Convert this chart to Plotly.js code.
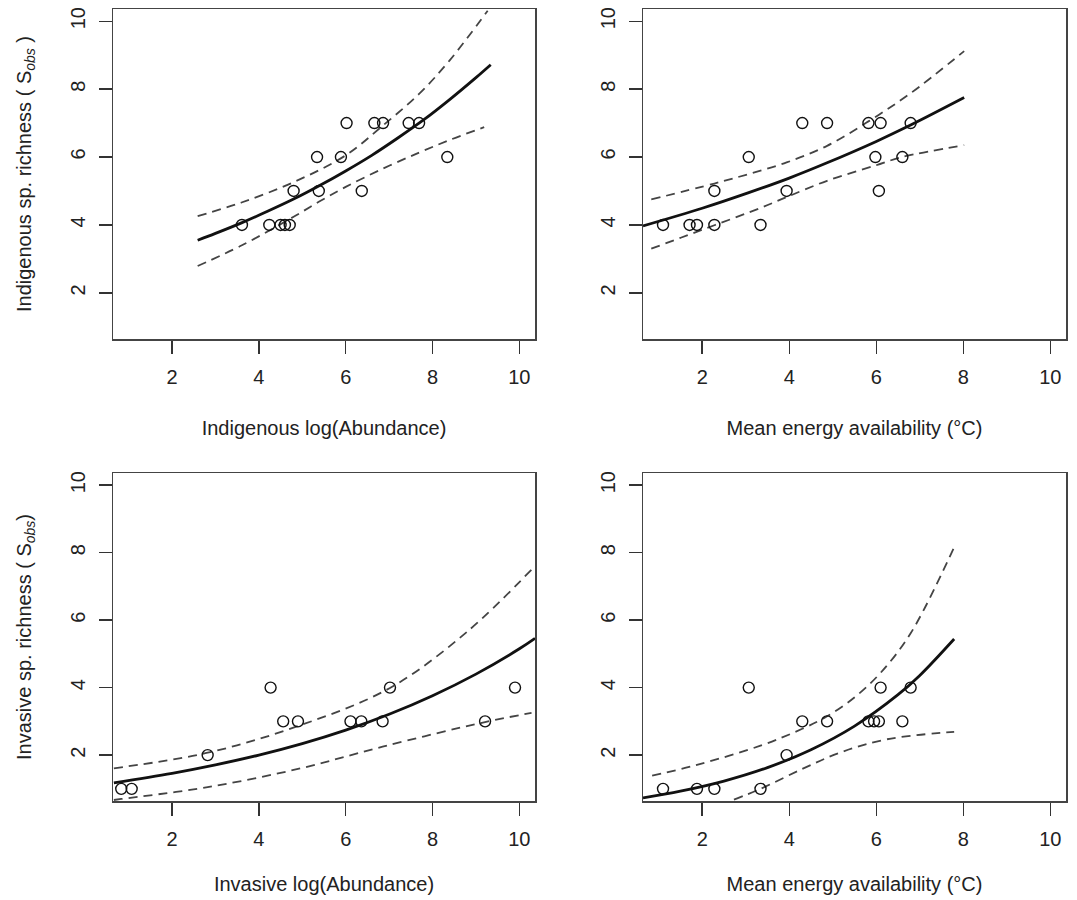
<!DOCTYPE html>
<html>
<head>
<meta charset="utf-8">
<script src="https://cdn.plot.ly/plotly-3.0.1.min.js"></script>
<style>html,body{margin:0;padding:0;background:#fff}#chart{width:1077px;height:900px}</style>
</head>
<body>
<div id="chart"></div>
<script>
// ---------- Panel A: Indigenous richness vs Indigenous log(Abundance) ----------
const indAbundX = [3.61, 4.24, 4.50, 4.60, 4.71, 4.80, 5.34, 5.38, 5.89, 6.02, 6.37, 6.66, 6.86, 7.45, 7.69, 8.34];
const indAbundY = [4, 4, 4, 4, 4, 5, 6, 5, 6, 7, 5, 7, 7, 7, 7, 6];
const indAbundFitX = [2.59, 3.0, 3.6, 4.2, 4.8, 5.4, 6.0, 6.6, 7.2, 7.8, 8.4, 9.0, 9.34];
const indAbundFitY = [3.55, 3.75, 4.06, 4.40, 4.76, 5.16, 5.59, 6.05, 6.56, 7.10, 7.70, 8.34, 8.72];
const indAbundUpX = [2.59, 3.6, 4.8, 6.0, 6.86, 7.69, 8.39, 9.27];
const indAbundUpY = [4.26, 4.66, 5.26, 6.05, 6.93, 7.86, 8.84, 10.31];
const indAbundLoX = [2.59, 3.61, 4.8, 5.38, 6.0, 6.86, 7.69, 8.39, 9.19];
const indAbundLoY = [2.79, 3.40, 4.24, 4.68, 5.12, 5.66, 6.13, 6.50, 6.88];

// ---------- Panel B: Indigenous richness vs Mean energy availability ----------
const indEnergyX = [1.10, 1.71, 1.88, 2.28, 2.28, 3.07, 3.34, 3.94, 4.30, 4.87, 5.82, 6.10, 5.98, 6.06, 6.60, 6.79];
const indEnergyY = [4, 4, 4, 4, 5, 6, 4, 5, 7, 7, 7, 7, 6, 5, 6, 7];
const indEnergyFitX = [0.64, 2.0, 3.07, 4.0, 4.87, 6.0, 6.79, 8.02];
const indEnergyFitY = [3.97, 4.49, 4.95, 5.38, 5.83, 6.46, 6.94, 7.75];
const indEnergyUpX = [0.83, 2.28, 3.07, 3.94, 4.87, 5.82, 6.79, 8.02];
const indEnergyUpY = [4.75, 5.22, 5.50, 5.84, 6.33, 7.05, 7.88, 9.12];
const indEnergyLoX = [0.83, 1.50, 2.28, 3.34, 3.94, 4.87, 5.98, 6.60, 8.02];
const indEnergyLoY = [3.30, 3.62, 3.99, 4.50, 4.82, 5.30, 5.75, 6.00, 6.35];

// ---------- Panel C: Invasive richness vs Invasive log(Abundance) ----------
const invAbundX = [0.83, 1.07, 2.82, 4.27, 4.56, 4.90, 6.11, 6.36, 6.85, 7.02, 9.21, 9.90];
const invAbundY = [1, 1, 2, 4, 3, 3, 3, 3, 3, 4, 3, 4];
const invAbundFitX = [0.66, 2.0, 3.0, 4.0, 5.0, 6.0, 7.0, 8.0, 9.0, 10.0, 10.36];
const invAbundFitY = [1.18, 1.46, 1.71, 2.00, 2.34, 2.74, 3.21, 3.76, 4.40, 5.15, 5.46];
const invAbundUpX = [0.66, 2.82, 4.90, 7.02, 8.80, 10.32];
const invAbundUpY = [1.61, 2.07, 2.86, 3.99, 5.66, 7.55];
const invAbundLoX = [0.66, 0.83, 2.82, 4.90, 6.85, 9.21, 10.28];
const invAbundLoY = [0.67, 0.70, 1.05, 1.59, 2.25, 2.98, 3.25];

// ---------- Panel D: Invasive richness vs Mean energy availability ----------
const invEnergyX = [1.10, 1.88, 2.28, 3.07, 3.34, 3.94, 4.30, 4.87, 5.82, 5.95, 6.06, 6.10, 6.60, 6.79];
const invEnergyY = [1, 1, 1, 4, 1, 2, 3, 3, 3, 3, 3, 4, 3, 4];
const invEnergyFitX = [0.64, 1.5, 2.5, 3.5, 4.5, 5.5, 6.5, 7.0, 7.79];
const invEnergyFitY = [0.73, 0.93, 1.23, 1.63, 2.16, 2.86, 3.79, 4.36, 5.44];
const invEnergyUpX = [0.85, 1.88, 3.34, 4.30, 4.87, 5.49, 6.10, 6.79, 7.79];
const invEnergyUpY = [1.39, 1.71, 2.28, 2.78, 3.15, 3.70, 4.44, 5.61, 8.16];
const invEnergyLoX = [2.73, 3.34, 4.30, 5.18, 6.25, 7.79];
const invEnergyLoY = [0.68, 1.00, 1.59, 2.08, 2.47, 2.69];

const tickVals = [2, 4, 6, 8, 10];
const tickText = ['2', '4', '6', '8', '10'];

const xTitles = ['Indigenous log(Abundance)', 'Mean energy availability (°C)',
                 'Invasive log(Abundance)', 'Mean energy availability (°C)'];
const yTitles = ['Indigenous sp. richness ( S<sub><i>obs</i></sub> )', null,
                 'Invasive sp. richness ( S<sub><i>obs</i></sub>)', null];

const panels = [
  {px: indAbundX, py: indAbundY, fx: indAbundFitX, fy: indAbundFitY, ux: indAbundUpX, uy: indAbundUpY, lx: indAbundLoX, ly: indAbundLoY},
  {px: indEnergyX, py: indEnergyY, fx: indEnergyFitX, fy: indEnergyFitY, ux: indEnergyUpX, uy: indEnergyUpY, lx: indEnergyLoX, ly: indEnergyLoY},
  {px: invAbundX, py: invAbundY, fx: invAbundFitX, fy: invAbundFitY, ux: invAbundUpX, uy: invAbundUpY, lx: invAbundLoX, ly: invAbundLoY},
  {px: invEnergyX, py: invEnergyY, fx: invEnergyFitX, fy: invEnergyFitY, ux: invEnergyUpX, uy: invEnergyUpY, lx: invEnergyLoX, ly: invEnergyLoY}
];

const W = 1077, H = 900;
const boxes = [
  {l: 113, r: 535, t: 9, b: 339},
  {l: 643, r: 1066, t: 9, b: 339},
  {l: 113, r: 535, t: 473, b: 801},
  {l: 643, r: 1066, t: 473, b: 801}
];

const traces = [];
const layout = {
  width: W, height: H,
  margin: {l: 0, r: 0, t: 0, b: 0},
  paper_bgcolor: '#ffffff', plot_bgcolor: '#ffffff',
  showlegend: false,
  font: {family: 'Liberation Sans, Arial, sans-serif', size: 20, color: '#222'}
};

panels.forEach((p, i) => {
  const n = i === 0 ? '' : String(i + 1);
  const xa = 'x' + n, ya = 'y' + n;
  const dash = {color: '#444', width: 1.8, dash: '9px,6px'};
  traces.push({x: p.ux, y: p.uy, xaxis: xa, yaxis: ya, mode: 'lines', line: Object.assign({shape: 'spline'}, dash), hoverinfo: 'skip'});
  traces.push({x: p.lx, y: p.ly, xaxis: xa, yaxis: ya, mode: 'lines', line: Object.assign({shape: 'spline'}, dash), hoverinfo: 'skip'});
  traces.push({x: p.fx, y: p.fy, xaxis: xa, yaxis: ya, mode: 'lines', line: {color: '#111', width: 2.8, shape: 'spline'}, hoverinfo: 'skip'});
  traces.push({x: p.px, y: p.py, xaxis: xa, yaxis: ya, mode: 'markers', cliponaxis: false,
    marker: {symbol: 'circle-open', size: 11, color: '#111', line: {width: 1.4, color: '#111'}}});

  const b = boxes[i];
  const axisCommon = {
    range: [0.64, 10.36], tickvals: tickVals, ticktext: tickText,
    ticks: 'outside', ticklen: 13, tickwidth: 1.4, tickcolor: '#333',
    showline: true, mirror: true, linecolor: '#444', linewidth: 1.5,
    showgrid: false, zeroline: false, fixedrange: true,
    tickfont: {size: 20, color: '#222'}
  };
  layout['xaxis' + n] = Object.assign({}, axisCommon, {
    domain: [b.l / W, b.r / W], anchor: ya, ticklabelstandoff: 6,
    title: {text: xTitles[i], font: {size: 20, color: '#222'}, standoff: i < 2 ? 34 : 28}
  });
  const yax = Object.assign({}, axisCommon, {
    domain: [1 - b.b / H, 1 - b.t / H], anchor: xa, tickangle: -90, ticklabelstandoff: 6
  });
  if (yTitles[i]) {
    yax.title = {text: yTitles[i], font: {size: 20, color: '#222'}, standoff: 29};
  }
  layout['yaxis' + n] = yax;
});

Plotly.newPlot('chart', traces, layout, {staticPlot: true});
</script>
</body>
</html>
